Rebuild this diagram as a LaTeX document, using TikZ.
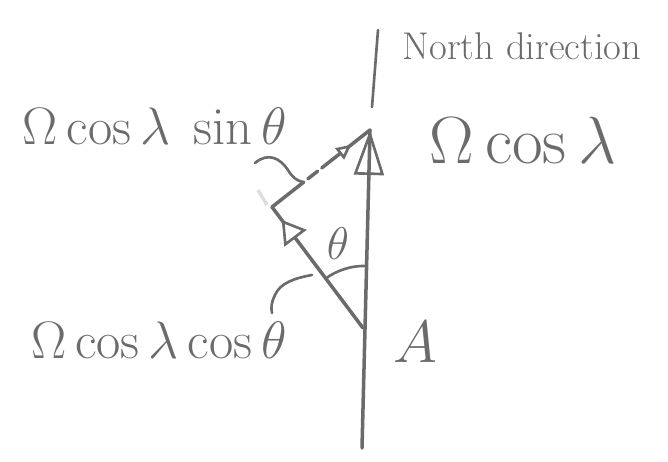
\RequirePackage{fix-cm}
\documentclass[tikz,border=0pt]{standalone}
\usepackage{amsmath,amssymb}
\usepackage{tikz}
\usetikzlibrary{arrows.meta,decorations.markings}
\usepackage{xcolor}
\definecolor{pencil}{HTML}{6B6B6B}
\definecolor{ghost}{HTML}{DEDEDE}

\begin{document}
\begin{tikzpicture}[
    x=0.02cm, y=-0.02cm,
    stroke/.style={pencil, line width=2pt, line cap=round, line join=round},
    thinstroke/.style={pencil, line width=1.5pt, line cap=round},
    headat/.style args={#1/#2/#3/#4}{decoration={markings,
        mark=at position #1 with {\arrow[pencil, line width=1.5pt]{Triangle[fill=#4, length=#2, width=#3]}}},
        postaction=decorate},
    lbl/.style={pencil, font=\fontsize{30}{36}\selectfont, inner sep=0pt}
  ]
    \useasboundingbox (0,0) rectangle (668,461);

    % --- points of the triangle ---
    \coordinate (A) at (363,328);
    \coordinate (bot) at (362,448);
    \coordinate (tip) at (370,130);
    \coordinate (corner) at (272,207);
    \coordinate (ntop) at (378,30);
    \coordinate (nbot) at (372,107);

    % --- vectors ---
    \draw[stroke, headat=1/0.9cm/0.6cm/none] (bot) -- (tip);
    \draw[stroke, headat=0.894/0.46cm/0.55cm/white] (A) -- (corner);
    \draw[stroke, dash pattern=on 23pt off 3pt on 7pt off 3pt on 200pt,
          headat=0.81/0.3cm/0.28cm/white] (corner) -- (tip);
    \draw[thinstroke] (nbot) -- (ntop);

    % --- angle and pointers ---
    \draw[thinstroke] (325.7,278.5) .. controls (336.5,270.4) and (351.7,265.5) .. (365.2,266);
    \draw[thinstroke] (255,163) .. controls (268,152) and (280,158) .. (288,170)
                      .. controls (292,177) and (297,181) .. (303,182);
    \draw[thinstroke] (312,275) .. controls (295,278) and (280,283) .. (275,295)
                      .. controls (271,303) and (271,308) .. (272,313);
    \draw[ghost, line width=2pt] (258,190) -- (267,205);

    % --- labels ---
    \node[lbl] (sinlbl) at (155,126) {$\Omega\cos\lambda\;\sin\theta$};
    \node[lbl, font=\fontsize{38}{44}\selectfont] (coslbl) at (523,140) {$\Omega\cos\lambda$};
    \node[lbl] (coscoslbl) at (159,340) {$\Omega\cos\lambda\cos\theta$};
    \node[lbl, font=\fontsize{22}{26}\selectfont] (northlbl) at (522,46) {North direction};
    \node[lbl, font=\fontsize{34}{40}\selectfont] (albl) at (415,342) {$A$};
    \node[lbl, font=\fontsize{26}{30}\selectfont] (thetalbl) at (338,244) {$\theta$};
\end{tikzpicture}
\end{document}
